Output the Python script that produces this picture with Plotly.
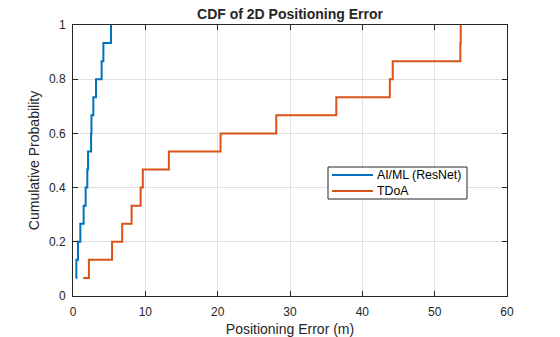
import plotly.graph_objects as go

n = 15
levels = [(i + 1) / n for i in range(n)]
aiml_err = [0.42, 0.46, 0.69, 1.01, 1.47, 1.75, 1.98, 2.08, 2.5, 2.55, 2.81, 3.18, 3.96, 4.2, 5.25]
tdoa_err = [1.4, 2.2, 5.4, 6.8, 8.1, 9.35, 9.65, 13.25, 20.4, 28.1, 36.4, 43.8, 44.2, 53.55, 53.6]

series_names = ["AI/ML (ResNet)", "TDoA"]
series_colors = ["#0072BD", "#D95319"]

x_ticks = [0, 10, 20, 30, 40, 50, 60]
y_ticks = [0, 0.2, 0.4, 0.6, 0.8, 1]
y_labels = ["0", "0.2", "0.4", "0.6", "0.8", "1"]

FONT = "Liberation Sans, Arial"
W, H = 560, 337
L, R, T, B = 73, 53, 25, 41
PW, PH = W - L - R, H - T - B


def px_to_paper(px, py):
    return (px - L) / PW, (H - B - py) / PH


fig = go.Figure()
for xs, name, col in zip([aiml_err, tdoa_err], series_names, series_colors):
    fig.add_trace(go.Scatter(x=xs, y=levels, mode="lines", line_shape="hv",
                             line=dict(color=col, width=2), name=name,
                             cliponaxis=False, showlegend=False))

axis_common = dict(showline=True, linecolor="#262626", linewidth=1, mirror="ticks",
                   ticks="inside", ticklen=5, tickcolor="#262626", automargin=False,
                   showgrid=True, gridcolor="#E0E0E0", gridwidth=1, zeroline=False,
                   tickfont=dict(family=FONT, size=12, color="#262626"))

# manual MATLAB-style legend
shapes = []
annotations = []
x0, y0 = px_to_paper(328, 167)
x1, y1 = px_to_paper(467, 199)
shapes.append(dict(type="rect", xref="paper", yref="paper", x0=x0, y0=y1, x1=x1, y1=y0,
                   line=dict(color="#262626", width=1), fillcolor="white", layer="above"))
for i, (name, col) in enumerate(zip(series_names, series_colors)):
    ry = 175 + i * 16
    lx0, ly = px_to_paper(332, ry)
    lx1, _ = px_to_paper(373, ry)
    shapes.append(dict(type="line", xref="paper", yref="paper", x0=lx0, x1=lx1, y0=ly, y1=ly,
                       line=dict(color=col, width=2), layer="above"))
    tx, _ = px_to_paper(375, ry)
    annotations.append(dict(text=name, xref="paper", yref="paper", x=tx, y=ly,
                            xanchor="left", yanchor="middle", showarrow=False,
                            font=dict(family=FONT, size=12.3, color="#000000")))

fig.update_layout(
    width=W, height=H,
    margin=dict(l=L, r=R, t=T, b=B, autoexpand=False),
    paper_bgcolor="white", plot_bgcolor="white",
    title=dict(text="<b>CDF of 2D Positioning Error</b>", x=290 / W, xanchor="center",
               y=1 - 14 / H, yanchor="middle",
               font=dict(family=FONT, size=14, color="#262626")),
    xaxis=dict(range=[0, 60], tickvals=x_ticks, ticklabelstandoff=5,
               title=dict(text="Positioning Error (m)", standoff=7,
                          font=dict(family=FONT, size=14, color="#262626")),
               **axis_common),
    yaxis=dict(range=[0, 1], tickvals=y_ticks, ticktext=y_labels, ticklabelstandoff=4,
               title=dict(text="Cumulative Probability", standoff=6,
                          font=dict(family=FONT, size=14, color="#262626")),
               **axis_common),
    shapes=shapes,
    annotations=annotations,
    showlegend=False,
)

fig.write_html("out.html")
